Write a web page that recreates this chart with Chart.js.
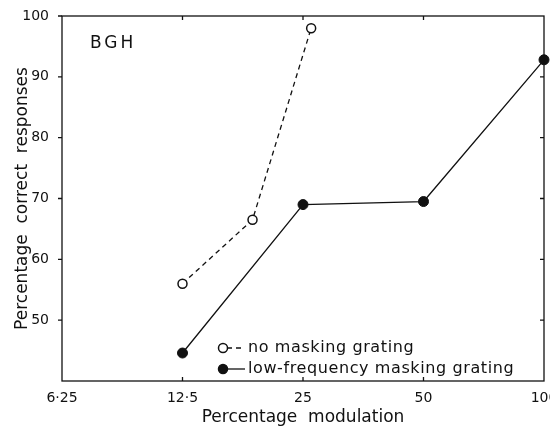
<!DOCTYPE html>
<html>
<head>
<meta charset="utf-8">
<script src="https://cdn.jsdelivr.net/npm/chart.js@4.4.1/dist/chart.umd.min.js"></script>
<style>
  html, body { margin: 0; padding: 0; background: #fff; }
  #wrap { width: 550px; height: 428px; }
</style>
</head>
<body>
<div id="wrap"><canvas id="bghChart"></canvas></div>
<script>
// percentage modulation (log axis) vs percentage correct responses
const noMaskX = [12.5, 18.7, 26.2];
const noMaskY = [56, 66.5, 98];
const lowFreqX = [12.5, 25, 50, 100];
const lowFreqY = [44.6, 69, 69.5, 92.8];

const xTicks = [6.25, 12.5, 25, 50, 100];
const xTickLabels = ['6·25', '12·5', '25', '50', '100'];
const yTicks = [50, 60, 70, 80, 90, 100];

const seriesNames = ['no masking grating', 'low-frequency masking grating'];
const font = '"DejaVu Sans", sans-serif';

const toPoints = (xs, ys) => xs.map((x, i) => ({ x: x, y: ys[i] }));

// frame, little tick marks, BGH label and the in-plot key
const extras = {
  id: 'extras',
  afterDraw(chart) {
    const { ctx, chartArea: a, scales } = chart;
    ctx.save();
    ctx.strokeStyle = '#111';
    ctx.lineWidth = 1.3;
    ctx.strokeRect(a.left, a.top, a.right - a.left, a.bottom - a.top);

    ctx.beginPath();
    yTicks.forEach(v => {
      const y = scales.y.getPixelForValue(v);
      ctx.moveTo(a.left - 4, y); ctx.lineTo(a.left, y);
      if (v < 100) { ctx.moveTo(a.right - 4, y); ctx.lineTo(a.right, y); }
    });
    [12.5, 25, 50].forEach(v => {
      const x = scales.x.getPixelForValue(v);
      ctx.moveTo(x, a.bottom); ctx.lineTo(x, a.bottom - 4);
      ctx.moveTo(x, a.top); ctx.lineTo(x, a.top + 4);
    });
    ctx.stroke();

    ctx.fillStyle = '#111';
    ctx.font = '17px ' + font;
    ctx.textBaseline = 'middle';
    ctx.letterSpacing = '3px';
    ctx.fillText('BGH', 90, 44);

    // key
    ctx.font = '16px ' + font;
    ctx.letterSpacing = '0.6px';
    chart.data.datasets.forEach((ds, i) => {
      const y = 348 + i * 21;
      ctx.beginPath();
      ctx.setLineDash(ds.borderDash || []);
      ctx.lineWidth = 1.3;
      ctx.moveTo(227, y); ctx.lineTo(245, y);
      ctx.stroke();
      ctx.setLineDash([]);
      ctx.beginPath();
      ctx.arc(223, y, 4.5, 0, Math.PI * 2);
      ctx.fillStyle = ds.pointBackgroundColor;
      ctx.fill();
      ctx.lineWidth = 1.5;
      ctx.stroke();
      ctx.fillStyle = '#111';
      ctx.fillText(seriesNames[i], 248, y);
    });
    ctx.restore();
  }
};

new Chart(document.getElementById('bghChart'), {
  type: 'line',
  data: {
    datasets: [
      {
        label: seriesNames[0],
        data: toPoints(noMaskX, noMaskY),
        borderColor: '#111',
        borderWidth: 1.3,
        borderDash: [5, 4],
        pointRadius: 4.5,
        pointBorderWidth: 1.5,
        pointBackgroundColor: '#fff',
        pointBorderColor: '#111',
        tension: 0,
        clip: false
      },
      {
        label: seriesNames[1],
        data: toPoints(lowFreqX, lowFreqY),
        borderColor: '#111',
        borderWidth: 1.3,
        pointRadius: 5,
        pointBorderWidth: 1,
        pointBackgroundColor: '#111',
        pointBorderColor: '#111',
        tension: 0,
        clip: false
      }
    ]
  },
  options: {
    responsive: true,
    maintainAspectRatio: false,
    animation: false,
    layout: { padding: { top: 16, right: 5, left: 0, bottom: 0 } },
    plugins: {
      legend: { display: false },
      tooltip: { enabled: false }
    },
    scales: {
      x: {
        type: 'logarithmic',
        min: 6.25,
        max: 100,
        afterBuildTicks: s => { s.ticks = xTicks.map(v => ({ value: v })); },
        afterFit: s => { s.height = 47; s.paddingLeft = 0; s.paddingRight = 0; },
        grid: { display: false },
        border: { display: false },
        ticks: {
          autoSkip: false,
          maxRotation: 0,
          padding: 1,
          color: '#111',
          font: { family: font, size: 14 },
          callback: v => xTickLabels[xTicks.indexOf(v)]
        },
        title: {
          display: true,
          text: 'Percentage  modulation',
          color: '#111',
          font: { family: font, size: 17 },
          padding: { top: 2, bottom: 0 }
        }
      },
      y: {
        min: 40,
        max: 100,
        afterBuildTicks: s => { s.ticks = yTicks.map(v => ({ value: v })); },
        afterFit: s => { s.width = 62; },
        grid: { display: false },
        border: { display: false },
        ticks: {
          padding: 5,
          color: '#111',
          font: { family: font, size: 14 }
        },
        title: {
          display: true,
          text: 'Percentage  correct  responses',
          color: '#111',
          font: { family: font, size: 17 },
          padding: { top: 12, bottom: 0 }
        }
      }
    }
  },
  plugins: [extras]
});
</script>
</body>
</html>
